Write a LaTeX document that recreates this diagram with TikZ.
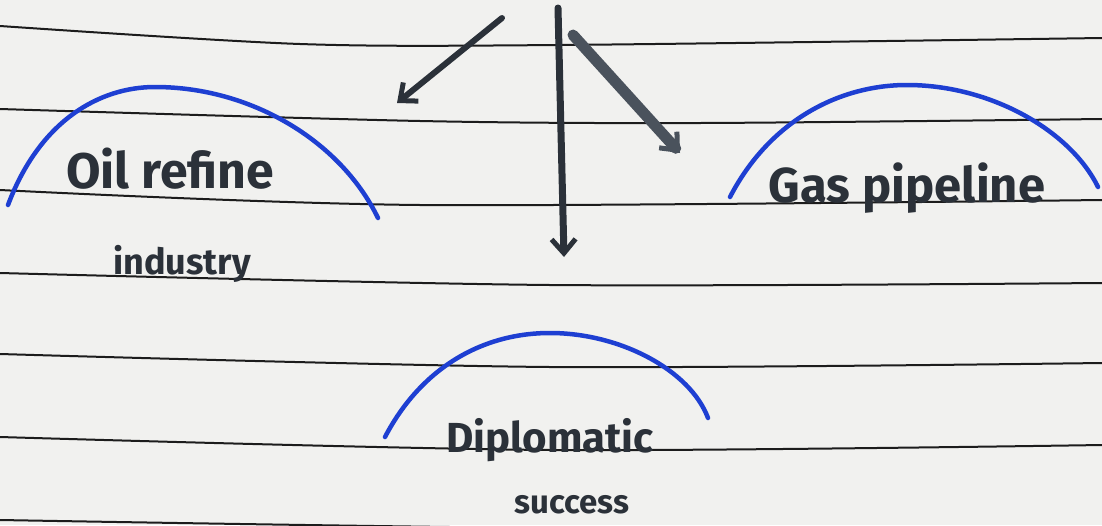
\documentclass[tikz,border=0pt]{standalone}
\usepackage{fontspec}
\setmainfont{Fira Sans}
\usetikzlibrary{arrows.meta}
\definecolor{paper}{HTML}{F1F1EF}
\definecolor{rulec}{HTML}{1C1C1C}
\definecolor{ink}{HTML}{2B3139}
\definecolor{inkb}{HTML}{4A525C}
\definecolor{pen}{HTML}{1E3FD2}
\tikzset{
  ruling/.style={rulec, line width=2pt},
  dome/.style={pen, line width=4.5pt, line cap=round},
  word/.style={ink, inner sep=0pt, font=\bfseries},
  penarrow/.style={line width=6pt, line cap=round, -{Straight Barb[length=14pt,width=24pt,line width=5pt]}},
}
\begin{document}
\begin{tikzpicture}[x=1pt,y=-1pt]
\fill[paper] (0,0) rectangle (1102,525);
\useasboundingbox (0,0) rectangle (1102,525);
% ruled lines
\draw[ruling] plot[smooth] coordinates {(0,26) (300,44) (560,45) (1102,38)};
\draw[ruling] plot[smooth] coordinates {(0,109) (420,121) (700,123) (1102,119)};
\draw[ruling] plot[smooth] coordinates {(0,190) (420,205) (1102,200)};
\draw[ruling] plot[smooth] coordinates {(0,273) (550,285) (1102,283)};
\draw[ruling] plot[smooth] coordinates {(0,354) (550,367) (1102,363)};
\draw[ruling] plot[smooth] coordinates {(0,437) (550,450) (1102,445)};
\draw[ruling] plot[smooth] coordinates {(0,520) (550,528) (1102,527)};
% blue domes
\draw[dome] (8,205) .. controls (40,120) and (100,87) .. (155,87) .. controls (250,87) and (340,140) .. (378,218);
\draw[dome] (730,197) .. controls (770,120) and (840,85) .. (907,85) .. controls (990,85) and (1070,130) .. (1098,187);
\draw[dome] (385,437) .. controls (420,370) and (480,333) .. (550,333) .. controls (620,333) and (690,370) .. (708,418);
% words
\node[word, font=\bfseries\fontsize{50}{52}\selectfont, anchor=base] (oil) at (170,188) {Oil refine};
\node[word, font=\bfseries\fontsize{36}{38}\selectfont, anchor=base] (ind) at (182,274) {industry};
\node[word, font=\bfseries\fontsize{49}{51}\selectfont, anchor=base] (gas) at (907,202) {Gas pipeline};
\node[word, font=\bfseries\fontsize{42}{44}\selectfont, anchor=base] (dip) at (550,452) {Diplomatic};
\node[word, font=\bfseries\fontsize{33}{35}\selectfont, anchor=base] (suc) at (572,513) {success};
% arrows
\coordinate (a1s) at (502,18);
\coordinate (a1e) at (397,103);
\coordinate (a2s) at (558,8);
\coordinate (a2e) at (564,257);
\coordinate (a3s) at (573,35);
\coordinate (a3e) at (680,153);
\draw[penarrow, ink] (a1s) -- (a1e);
\draw[penarrow, ink, line width=7pt] (a2s) -- (a2e);
\draw[penarrow, inkb, line width=11pt] (a3s) -- (a3e);
\end{tikzpicture}
\end{document}
